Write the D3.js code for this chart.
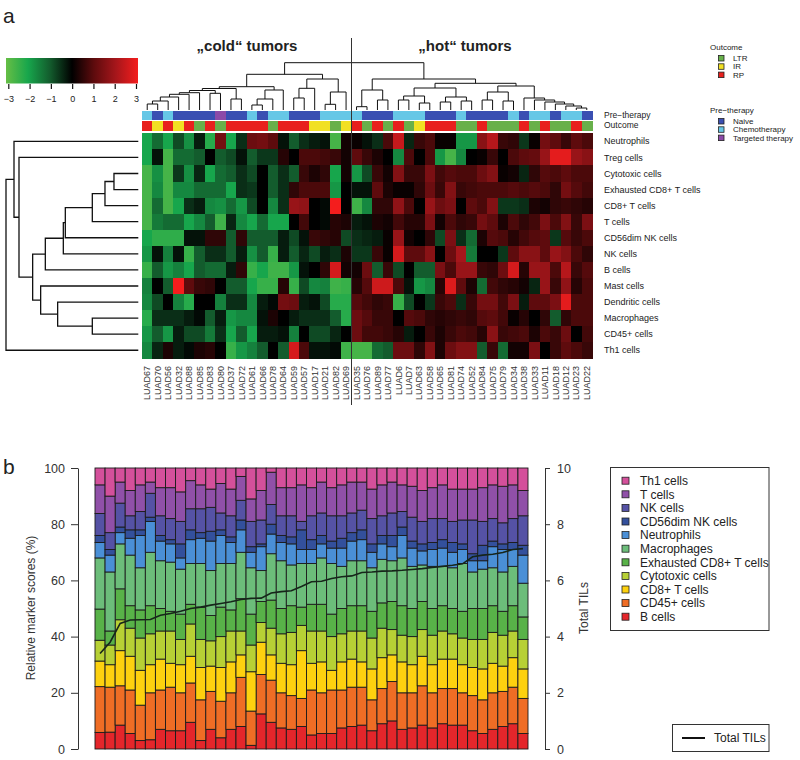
<!DOCTYPE html>
<html><head><meta charset="utf-8">
<script src="https://cdn.jsdelivr.net/npm/d3@7"></script>
<style>body{margin:0;background:#fff} text{font-family:'Liberation Sans',Arial,sans-serif}</style>
</head><body><svg id="c" width="800" height="760"></svg>
<script>
// ---------- DATA: heatmap ----------
const rowNames = ["Neutrophils","Treg cells","Cytotoxic cells","Exhausted CD8+ T cells","CD8+ T cells","T cells","CD56dim NK cells","NK cells","B cells","Mast cells","Dendritic cells","Macrophages","CD45+ cells","Th1 cells"];
const colNames = ["LUAD67","LUAD70","LUAD56","LUAD32","LUAD88","LUAD85","LUAD83","LUAD80","LUAD37","LUAD72","LUAD61","LUAD66","LUAD78","LUAD64","LUAD59","LUAD57","LUAD17","LUAD21","LUAD82","LUAD69",
 "LUAD35","LUAD76","LUAD89","LUAD77","LUAD6","LUAD7","LUAD63","LUAD58","LUAD65","LUAD81","LUAD74","LUAD52","LUAD84","LUAD75","LUAD79","LUAD34","LUAD38","LUAD33","LUAD11","LUAD18","LUAD12","LUAD23","LUAD22"];
const preTherapy = ["C","N","C","N","N","N","N","T","N","N","C","N","C","C","N","N","N","C","C","C",
 "C","N","N","N","C","C","C","N","N","N","C","N","N","N","N","C","N","C","C","N","C","C","N"];
const outcome = ["RP","IR","RP","IR","RP","LTR","RP","LTR","RP","RP","RP","RP","LTR","RP","RP","RP","IR","IR","LTR","IR",
 "RP","LTR","RP","LTR","RP","LTR","IR","RP","RP","RP","LTR","LTR","RP","LTR","LTR","LTR","RP","LTR","RP","LTR","LTR","RP","LTR"];
const heatValues = [
 [-2,-1.2,-2,-0.8,-1.7,-0.3,-2.2,1.3,-2,-0.5,1.2,1.3,1.0,-0.2,-1,-0.5,-0.3,-0.2,-2.6,0.2, 0.1,-0.2,-0.5,0.8,2.4,-0.4,0.6,0.8,0.1,0.1,-1.8,-1.8,1.6,2.2,0.6,0.5,-0.6,0.1,1.3,1.0,0.6,1.0,0.8],
 [-2,-0.2,-2.6,-1.2,-1.2,-1,0,-1,-0.8,-0.2,-1,-0.6,-0.6,0.4,0,0.8,0.8,0.7,0.6,0.2, 1.0,0.6,0.3,0,-1.6,0.8,0,0.8,-1.8,-2.6,-1.6,0,0.1,0.6,0,0.8,1.0,1.1,1.8,2.8,2.8,1.8,1.6],
 [-2.6,-1.7,-2.6,-0.6,-1.7,-0.4,-2,-1.2,-1,-0.5,-0.8,0,-1,-0.5,-1,0.6,0.3,0.5,-2,0.2, -1.8,-0.8,0.6,0.2,1.5,0.6,0.6,1.4,0.7,0.9,0.8,0.8,1.2,1.5,0.1,0.2,-0.4,0.5,0.9,0.8,1.0,0.8,0.8],
 [-2.6,-1.6,-2.6,-1.6,-1.6,-1.2,-1.2,-1.2,-2,-0.5,-0.6,0,-1,-0.5,0.5,0.8,0.8,0.8,-1.8,0, -0.2,-0.2,1.0,0.3,0.1,0.1,0.5,1.2,0.6,1.5,0.6,0.7,0.8,0.8,0.8,0.9,0.8,0.9,0.8,0.5,1.3,0.9,0.7],
 [-2.6,-1.2,-2.6,-2,-0.5,-0.3,-1.6,-1.7,-1.2,-1.8,-0.8,0,-1.6,-0.5,1.8,1.7,0,-0.1,3,0, -2.5,-1.6,0.5,0.5,1.7,0.8,0,1.8,1.2,1.4,0,1.0,0.8,1.5,-0.6,-0.6,-0.5,0.3,0.2,0.5,0.6,0.5,0.4],
 [-2.6,-1.4,-1.2,-1.2,-2,-1.6,-1,-2.5,-0.4,-1.6,-2,-1.2,-2,-2,0,0.7,0,-0.1,0.4,0.3, -0.3,-0.2,0.3,0.2,0.7,0.4,0.4,1.4,0.2,0.8,0.5,0.6,1.3,1.0,0.3,0.8,0.5,0.7,1.4,0.8,1.5,0.6,1.4],
 [-2,-2.3,-2.3,-2.3,-0.2,-0.2,0.5,0.5,-1,0.5,-1,-1,-1,-0.3,-0.8,-0.2,0.6,0.5,0.4,-0.8, -0.5,-0.4,-0.3,0.1,1.8,0.2,0,0.5,-0.8,1.4,-0.5,-1.2,0.3,0.9,0.8,0.4,0.7,0.9,1.0,-0.6,0.9,0.6,0.8],
 [-1.8,-0.2,-1.5,-0.2,-2.4,-1,-0.5,-0.5,-1,-0.3,-1.7,-1,-2.4,-0.3,-1,-0.4,-0.8,-0.3,-0.5,0.3, -0.6,-0.6,0.6,0.1,2.6,1.0,1.0,1.6,0,1.2,2.0,-1.4,0,0,-0.6,1.0,1.6,1.6,1.0,1.8,1.5,0.8,0.5],
 [-2.4,-1,-1.8,-1.5,-2,-1,-1.2,-1.2,-0.3,0.5,-2.4,-2,-2.5,-2.5,-1.8,-0.2,0,0.5,2.6,0.2, 0.2,1.2,-1.0,0.6,-0.8,0,-1.0,-1.0,1.4,0.8,1.8,1.8,0.6,0.5,1.2,2.6,0.4,1.8,1.8,0.8,2.2,0.6,0.9],
 [-1.5,0,-1,3,1,0.6,0.5,0,-1,-1,-2,-2.4,-2.4,0.4,-2.4,-0.8,-1.6,-1.5,-2.5,-2.4, 0.4,0.9,2.5,2.5,0.8,-0.2,-1.8,-1.6,0.4,2.7,1.0,0.3,-1.2,0.7,0.5,0.4,0.2,-0.4,1.8,0.6,1.7,0.4,0.8],
 [-1.6,-0.8,0,-1.5,-2.2,0,0,-1.5,-0.5,-0.5,-1.6,-0.3,-0.1,1.3,1.2,-0.3,-0.2,-0.8,-2.2,-2.2, 0.9,0.7,0.5,0.6,-2.4,-0.8,0,-0.6,0.6,0.8,-0.5,0.6,1.3,1.3,0.7,1.4,-0.3,1.0,1.0,1.4,2.8,0.8,0.8],
 [-2.2,-0.5,-0.5,-0.5,-0.3,-0.1,-1,-0.3,-1.8,-1.6,-1.6,-0.2,0.3,0,-0.3,-0.5,-0.5,-0.5,-1,-2.2, 1.2,0.9,0.6,0.6,0,0.9,0.8,0.5,0.4,0.5,0.6,0.5,0.9,1.0,0.7,0.1,0.4,0,0.5,-1.0,0.5,0.8,0.8],
 [-1.8,-1,-1.8,-0.3,-0.8,-0.8,-1.4,-0.5,-2,-1,-2,-0.3,-0.3,-0.2,-1.5,0,-0.8,-0.8,-0.4,0, 1.2,0.7,0.7,0.6,0.4,-0.3,0,0.6,0.3,0.6,0.8,0.7,0.4,1.6,0.6,0.7,0.8,0.3,0.8,0.6,1.2,0,0.7],
 [-1.6,-0.4,0.3,-0.3,-0.1,0.3,0.4,0,-2.4,-1.8,-1.5,-1,0,-1,2.6,0.8,-0.2,-0.2,-0.1,-2.5, -2.6,-2.6,-1.2,-1.0,1.2,1.2,0.5,1.5,0.3,1.2,1.5,1.5,-1.0,0.6,-1.2,0.2,0.2,1.4,0,0.6,1.0,0.8,0.6]
];
// dendrograms: leaf = index, node = [left, right, height]
const colTree = [
 [ [ [ [ [ [ [ [ [0,1,6],2,9],3,13],4,15.7],5,17.3], [6,7,16.7], 19.5], [8,9,11], 21.5],
     [ [ [10,11,5],12,11],13,20], 23.3],
   [ [ [14,15,12],16,21.7], [ [17,18,5.7],19,18], 31], 35.7],
 [ [ [20,21,3.3],[22,23,10],20],
   [ [ [ [24,25,10],[26,27,7],14], [ [28,29,8],[30,31,9],13], 22],
     [ [ [32,33,10],[34,35,9],18], [36,[37,[38,[39,[40,[41,42,2],4],6],8],10],12], 24], 26.7], 31],
 47.3];
const rowTree = [[0,[1,[[[[[[[2,3,73],4,100],5,138],6,219],7,225],8,279],[9,[10,[11,12,138],242],293],317],358],373],13,397];
const scaleTicks = [-3,-2,-1,0,1,2,3];

// ---------- DATA: stacked bars ----------
const cellTypes = ["B cells","CD45+ cells","CD8+ T cells","Cytotoxic cells","Exhausted CD8+ T cells","Macrophages","Neutrophils","CD56dim NK cells","NK cells","T cells","Th1 cells"];
const cellColors = ["#e4262b","#ef6d25","#fdd10f","#b7d035","#58b248","#6cbd7a","#4a8fd6","#33509c","#5552a5","#9050a8","#d4509b"];
const bCells = [5.9,6,8.5,5.5,3,3.3,7,6.5,6.5,9.5,3,7,4,7,8,1.3,12.5,9.5,7.5,7,8,5,5.5,5.5,7.5,8,8.5,6.5,9,10,7,7.5,8.5,7.5,9,8.5,8.5,6.5,5.5,7,8,9,5.5];
const cd45 = [16.3,16,14,15.5,12.6,16.7,14,15.5,13.5,14,14.5,13.5,13,13,17.5,12.2,14,15,12.5,12,10,16,14.5,15.5,13.5,14,13.5,11,12.5,14,13,12.5,14,12.5,12.5,13,11.5,12.5,12,13,12.5,13,12.5];
const cd8 = [9.1,8,12.5,12,12.4,10,11,8.5,10,9.5,11.5,9,12,11,8,14,11.5,9,10.5,11,17,9.5,11,7,10,10,9,11,11,9.5,11,10,10.5,10,10.5,10.5,10,10,11,10.5,9,10.5,10.5];
const cytotoxic = [7.4,7,11,10,11.5,11,10,11.5,9,11.5,10,9,11,11,8.5,9.5,7,9.5,10.5,11.5,9,11.5,11,12,10,10,11,11,10.5,9,9.5,10,9.5,10.5,10,9,9.5,10,10.5,11,11,9.5,10.5];
const exhausted = [11.1,5,11,8,10,10,8,7,9,7,11.5,9,10.5,7.5,11.5,11,7.5,10,9,9.5,6.5,9.5,9.5,8,9,9,9,9.5,9,10,10.5,10,10,9.5,9,9,9.5,11,11,9.5,8.5,9,8];
const macrophages = [18.2,21,16,18,15,19,17,17.5,16,14.5,15.5,16,15.5,16.5,16.5,16.5,11,16.5,17,14.5,15.5,14.5,16.5,18,15,16,16,15.5,15.5,14.5,17,15,13,15,14,14.5,17,13,14,13.5,14,14,12];
const neutrophils = [5.5,6,4,6,11.5,11,7,6.5,4,8.5,9,10.5,10,7.5,8,5.5,8.5,7,6.5,7.5,5,5,5,5.5,6.5,7,7.5,5.5,5.5,5,8,6.5,5,6,6.5,5.5,5,4,3,7.5,8,6,10];
const cd56dim = [2.5,2,2,3,2,1.5,2,1.5,5,3.5,2,3.5,2,2,3.5,2,1,3.5,2.5,2.5,7,3.5,3,2.5,3.5,3,3.5,3,3,4,3,2.5,2.5,2.5,3,3.5,2,2.5,5.5,2,2,2.5,3.5];
const nkCells = [7.8,6,8.5,5,6.5,8.5,7,7.5,8,7.5,8.5,8.5,6,7.5,7,9,8.5,7,7,7.5,3,8.5,8,9,8,7,7,9,7,8,5.5,8.5,8,8.5,7.5,7.5,8.5,12,8.5,8,7.5,8.5,10.5];
const tCells = [10.2,13,7.5,9,9.5,4,10,11,10.5,10,8.5,6.5,10.5,9.5,8.5,8,10.5,11.5,10,10,13,10,11,10,11,11,10,10.5,11,11,9.5,11,11,11,12,11.5,11,11,12,12,13,12,9];
const th1 = [6,10,5,8,6,5,7,7,8.5,4.5,6,7.5,5.5,7.5,3,11,8,1.5,7,7,6,7,5,7,6,5,5,7.5,6,5,6,6.5,8,7,6,7.5,7.5,7.5,7,6,6.5,6,8];
const totalTILs = [3.4,3.8,4.47,4.59,4.6,4.61,4.76,4.82,4.9,5.0,5.05,5.12,5.18,5.24,5.32,5.36,5.37,5.55,5.6,5.63,5.78,5.95,5.97,6.07,6.13,6.16,6.28,6.3,6.33,6.34,6.36,6.39,6.42,6.46,6.5,6.54,6.59,6.84,6.9,6.93,6.99,7.1,7.13];
const pctTicks = [0,20,40,60,80,100];
const tilTicks = [0,2,4,6,8,10];

// ---------- DRAW ----------
const svg = d3.select("#c");
const txt = "#222";

// panel letters
svg.append("text").attr("x",3).attr("y",23).attr("font-size",21).attr("fill",txt).text("a");
svg.append("text").attr("x",3).attr("y",474).attr("font-size",21).attr("fill",txt).text("b");

// heatmap
const hx = d3.scaleBand().domain(d3.range(colNames.length)).range([142,592]);
const hy = d3.scaleBand().domain(d3.range(rowNames.length)).range([133.3,358.3]);
const heatColor = d3.scaleLinear().domain(scaleTicks)
  .range(["#66be45","#17a64c","#135c2d","#000000","#5e0b0d","#a6161b","#f41d1d"]).clamp(true);
const hm = svg.append("g").attr("shape-rendering","crispEdges");
heatValues.forEach((row,r)=>row.forEach((v,c)=>{
  hm.append("rect").attr("x",hx(c)).attr("y",hy(r)).attr("width",hx.bandwidth()+0.5).attr("height",hy.bandwidth()+0.5).attr("fill",heatColor(v));
}));
const preColor = {N:"#3a4fb2",C:"#66c7e6",T:"#8b4aa8"};
const outColor = {LTR:"#68b04a",IR:"#f1e023",RP:"#e8201d"};
preTherapy.forEach((p,c)=>hm.append("rect").attr("x",hx(c)).attr("y",111).attr("width",hx.bandwidth()+0.5).attr("height",9).attr("fill",preColor[p]));
outcome.forEach((p,c)=>hm.append("rect").attr("x",hx(c)).attr("y",121).attr("width",hx.bandwidth()+0.5).attr("height",9.5).attr("fill",outColor[p]));

// row labels
rowNames.forEach((n,r)=>svg.append("text").attr("x",604).attr("y",hy(r)+hy.bandwidth()/2).attr("dy","0.35em").attr("font-size",9).attr("fill",txt).text(n));
svg.append("text").attr("x",604).attr("y",115.5).attr("dy","0.35em").attr("font-size",8.5).attr("fill",txt).text("Pre\u2212therapy");
svg.append("text").attr("x",604).attr("y",125.5).attr("dy","0.35em").attr("font-size",8.5).attr("fill",txt).text("Outcome");

// column labels
colNames.forEach((n,c)=>{
  const cx = hx(c)+hx.bandwidth()/2;
  svg.append("text").attr("transform",`translate(${cx},366) rotate(-90)`).attr("text-anchor","end").attr("dy","0.35em").attr("font-size",9).attr("fill","#333").text(n);
});

// dendrograms
function dendro(node, pos, draw){
  if(typeof node==="number") return {p:pos(node), h:0};
  const a = dendro(node[0],pos,draw), b = dendro(node[1],pos,draw);
  draw(a,b,node[2]);
  return {p:(a.p+b.p)/2, h:node[2]};
}
const topY = d3.scaleLinear().domain([0,47.3]).range([110,62.7]);
const tg = svg.append("g").attr("fill","none").attr("stroke","#111").attr("stroke-width",1);
dendro(colTree, c=>hx(c)+hx.bandwidth()/2, (a,b,h)=>{
  tg.append("path").attr("d",`M${a.p},${topY(a.h)}V${topY(h)}H${b.p}V${topY(b.h)}`);
});
const leftX = d3.scaleLinear().domain([0,397]).range([138.3,6]);
const lg = svg.append("g").attr("fill","none").attr("stroke","#111").attr("stroke-width",1.3);
dendro(rowTree, r=>hy(r)+hy.bandwidth()/2, (a,b,h)=>{
  lg.append("path").attr("d",`M${leftX(a.h)},${a.p}H${leftX(h)}V${b.p}H${leftX(b.h)}`);
});

// divider and titles
svg.append("line").attr("x1",351.5).attr("x2",351.5).attr("y1",38).attr("y2",405).attr("stroke","#333").attr("stroke-width",1);
svg.append("text").attr("x",247).attr("y",51).attr("text-anchor","middle").attr("font-size",15).attr("font-weight","bold").attr("fill",txt).text("\u201Ecold\u201C tumors");
svg.append("text").attr("x",465).attr("y",51).attr("text-anchor","middle").attr("font-size",15).attr("font-weight","bold").attr("fill",txt).text("\u201Ehot\u201C tumors");

// color key
const defs = svg.append("defs");
const grad = defs.append("linearGradient").attr("id","hg");
scaleTicks.forEach((t,i)=>grad.append("stop").attr("offset",(i/(scaleTicks.length-1))).attr("stop-color",heatColor(t)));
const keyX = d3.scaleLinear().domain([-3,3]).range([8.3,136]);
svg.append("rect").attr("x",6).attr("y",58).attr("width",132).attr("height",25.5).attr("fill","url(#hg)");
const keyAxis = svg.append("g").attr("transform","translate(0,84)").call(d3.axisBottom(keyX).tickValues(scaleTicks).tickSize(5).tickSizeOuter(0).tickFormat(d=>d<0?"\u2212"+(-d):d));
keyAxis.select(".domain").remove();
keyAxis.selectAll("line").attr("stroke","#111").attr("stroke-width",1.2);
keyAxis.selectAll("text").attr("font-size",9).attr("fill",txt).attr("font-family","'Liberation Sans',Arial,sans-serif").attr("y",12);

// annotation legends
function annLegend(title, y0, items){
  svg.append("text").attr("x",710).attr("y",y0).attr("dy","0.35em").attr("font-size",8).attr("fill",txt).text(title);
  items.forEach((it,i)=>{
    const y = y0+11.3+i*8.3;
    svg.append("rect").attr("x",718.5).attr("y",y-2.8).attr("width",5.5).attr("height",5.5).attr("fill",it[1]).attr("stroke","#222").attr("stroke-width",0.8);
    svg.append("text").attr("x",733).attr("y",y).attr("dy","0.35em").attr("font-size",8).attr("fill",txt).text(it[0]);
  });
}
annLegend("Outcome",47,[["LTR",outColor.LTR],["IR",outColor.IR],["RP",outColor.RP]]);
annLegend("Pre\u2212therapy",110,[["Naive",preColor.N],["Chemotherapy",preColor.C],["Targeted therapy",preColor.T]]);

// ---------- stacked bars ----------
const series = [bCells,cd45,cd8,cytotoxic,exhausted,macrophages,neutrophils,cd56dim,nkCells,tCells,th1];
const table = d3.range(totalTILs.length).map(i=>{
  const o = {i};
  cellTypes.forEach((k,j)=>o[k]=series[j][i]);
  return o;
});
const stack = d3.stack().keys(cellTypes).offset(d3.stackOffsetExpand)(table);
const bx = d3.scaleBand().domain(d3.range(totalTILs.length)).range([95,528]);
const by = d3.scaleLinear().domain([0,100]).range([749,468]);
const byR = d3.scaleLinear().domain([0,10]).range([749,468]);
const bg = svg.append("g");
stack.forEach((s,j)=>{
  bg.selectAll(null).data(s).enter().append("rect")
    .attr("x",(d,i)=>bx(i)).attr("width",bx.bandwidth())
    .attr("y",d=>by(d[1]*100)).attr("height",d=>by(d[0]*100)-by(d[1]*100))
    .attr("fill",cellColors[j]).attr("stroke","#1b1b1b").attr("stroke-width",0.9);
});
// line
svg.append("path").datum(totalTILs).attr("fill","none").attr("stroke","#16251a").attr("stroke-width",1.6)
  .attr("d",d3.line().x((d,i)=>bx(i)+bx.bandwidth()/2).y(d=>byR(d)));

// axes
const ax = svg.append("g").attr("transform","translate(78,0)").call(d3.axisLeft(by).tickValues(pctTicks).tickSize(7).tickSizeOuter(0).tickPadding(6));
const axR = svg.append("g").attr("transform","translate(545,0)").call(d3.axisRight(byR).tickValues(tilTicks).tickSize(5).tickSizeOuter(0).tickPadding(7));
[ax,axR].forEach(a=>{
  a.selectAll("text").attr("font-size",12.5).attr("fill","#333").attr("font-family","'Liberation Sans',Arial,sans-serif");
  a.selectAll("line,path").attr("stroke","#333").attr("stroke-width",1);
});
svg.append("text").attr("transform","translate(35,608) rotate(-90)").attr("text-anchor","middle").attr("font-size",12).attr("fill","#333").text("Relative marker scores (%)");
svg.append("text").attr("transform","translate(588,608) rotate(-90)").attr("text-anchor","middle").attr("font-size",12).attr("fill","#333").text("Total TILs");

// legend
svg.append("rect").attr("x",610.5).attr("y",467.5).attr("width",158.5).attr("height",163).attr("fill","none").attr("stroke","#333").attr("stroke-width",1);
cellTypes.slice().reverse().forEach((k,i)=>{
  const y = 480.7+i*13.6;
  const j = cellTypes.length-1-i;
  svg.append("rect").attr("x",622).attr("y",y-3.5).attr("width",7).attr("height",7).attr("fill",cellColors[j]).attr("stroke","#222").attr("stroke-width",0.8);
  svg.append("text").attr("x",640).attr("y",y).attr("dy","0.35em").attr("font-size",12).attr("fill","#222").text(k);
});
svg.append("rect").attr("x",672.5).attr("y",724.5).attr("width",96.5).attr("height",27).attr("fill","none").attr("stroke","#333").attr("stroke-width",1);
svg.append("line").attr("x1",682).attr("x2",705).attr("y1",738).attr("y2",738).attr("stroke","#111").attr("stroke-width",2);
svg.append("text").attr("x",714).attr("y",738).attr("dy","0.35em").attr("font-size",12).attr("fill","#222").text("Total TILs");
</script>
</body></html>
